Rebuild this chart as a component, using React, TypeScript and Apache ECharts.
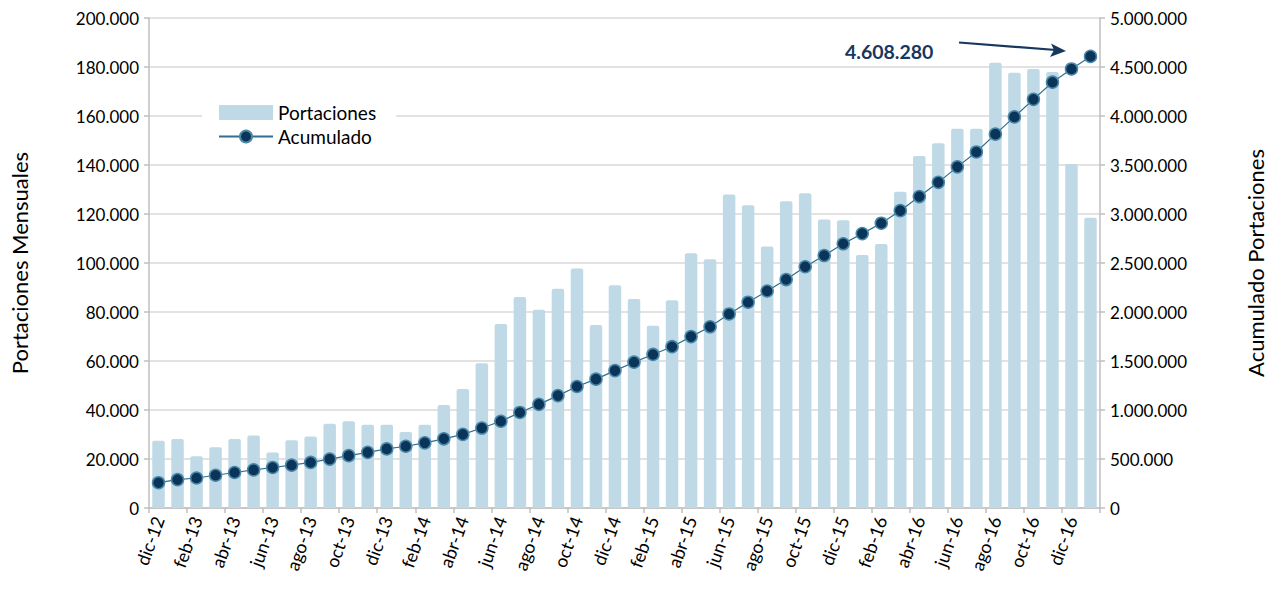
import React, { useEffect, useRef } from "react";
import * as echarts from "echarts";

const categories = [
  "dic-12", "ene-13", "feb-13", "mar-13", "abr-13", "may-13", "jun-13", "jul-13", "ago-13", "sep-13",
  "oct-13", "nov-13", "dic-13", "ene-14", "feb-14", "mar-14", "abr-14", "may-14", "jun-14", "jul-14",
  "ago-14", "sep-14", "oct-14", "nov-14", "dic-14", "ene-15", "feb-15", "mar-15", "abr-15", "may-15",
  "jun-15", "jul-15", "ago-15", "sep-15", "oct-15", "nov-15", "dic-15", "ene-16", "feb-16", "mar-16",
  "abr-16", "may-16", "jun-16", "jul-16", "ago-16", "sep-16", "oct-16", "nov-16", "dic-16", "ene-17",
];

const portaciones = [
  27500, 28200, 21100, 24800, 28200, 29600, 22700, 27700, 29200, 34400,
  35400, 34000, 34000, 31000, 34000, 42000, 48600, 59100, 75100, 86100,
  80900, 89500, 97800, 74700, 90900, 85300, 74400, 84800, 104000, 101500,
  128000, 123600, 106700, 125200, 128500, 117800, 117500, 103300, 107800, 129100,
  143700, 148900, 154800, 154800, 181700, 177700, 179200, 178000, 140400, 118500,
];

const acumulado = [
  258000, 289000, 306000, 334000, 362000, 389000, 413000, 437000, 465000, 499000,
  534000, 568000, 603000, 630000, 665000, 706000, 751000, 816000, 885000, 975000,
  1057000, 1147000, 1240000, 1315000, 1402000, 1488000, 1567000, 1646000, 1749000, 1849000,
  1980000, 2100000, 2214000, 2331000, 2462000, 2576000, 2696000, 2800000, 2906000, 3034000,
  3178000, 3323000, 3481000, 3633000, 3815000, 3991000, 4170000, 4345000, 4480000, 4608280,
];

const totalLabel = "4.608.280";

const fmt = (v: number) => String(v).replace(/\B(?=(\d{3})+(?!\d))/g, ".");

const FONT = "Lato, 'Open Sans', sans-serif";

export default function App() {
  const ref = useRef<HTMLDivElement>(null);

  useEffect(() => {
    if (!ref.current) return;
    const chart = echarts.init(ref.current, undefined, { renderer: "svg" });
    const axisLine = { show: true, lineStyle: { color: "#bfbfbf", width: 1.5 } };
    chart.setOption({
      animation: false,
      textStyle: { fontFamily: FONT },
      grid: { left: 148, right: 176, top: 18, bottom: 86, containLabel: false },
      legend: {
        orient: "vertical",
        left: 202,
        top: 98,
        itemWidth: 54,
        itemHeight: 15,
        itemGap: 5,
        padding: [5, 20, 5, 16],
        backgroundColor: "#ffffff",
        textStyle: { fontFamily: FONT, fontSize: 19, color: "#000" },
        data: [
          { name: "Portaciones", icon: "rect" },
          { name: "Acumulado" },
        ],
      },
      xAxis: {
        type: "category",
        data: categories,
        boundaryGap: true,
        axisLine,
        axisTick: { show: true, interval: 1, length: 5, lineStyle: { color: "#bfbfbf", width: 1.5 } },
        axisLabel: {
          interval: 1,
          rotate: 70,
          margin: 9,
          fontSize: 18,
          color: "#000",
          fontFamily: FONT,
        },
      },
      yAxis: [
        {
          type: "value",
          min: 0,
          max: 200000,
          interval: 20000,
          name: "Portaciones Mensuales",
          nameLocation: "middle",
          nameGap: 119,
          nameTextStyle: { fontSize: 22, color: "#000", fontFamily: FONT },
          axisLine,
          axisTick: { show: true, length: 5, lineStyle: { color: "#bfbfbf", width: 1.5 } },
          axisLabel: { fontSize: 17, color: "#000", margin: 10, formatter: fmt, fontFamily: FONT },
          splitLine: { show: true, lineStyle: { color: "#d9d9d9", width: 1.5 } },
        },
        {
          type: "value",
          min: 0,
          max: 5000000,
          interval: 500000,
          name: "Acumulado Portaciones",
          nameLocation: "middle",
          nameGap: 144,
          nameRotate: 90,
          nameTextStyle: { fontSize: 22, color: "#000", fontFamily: FONT },
          axisLine,
          axisTick: { show: true, length: 5, lineStyle: { color: "#bfbfbf", width: 1.5 } },
          axisLabel: { fontSize: 17, color: "#000", margin: 10, formatter: fmt, fontFamily: FONT },
          splitLine: { show: false },
        },
      ],
      series: [
        {
          name: "Portaciones",
          type: "bar",
          yAxisIndex: 0,
          data: portaciones,
          barWidth: 12.5,
          itemStyle: { color: "#bfdae6", borderRadius: [2, 2, 0, 0] },
        },
        {
          name: "Acumulado",
          type: "line",
          yAxisIndex: 1,
          data: acumulado,
          symbol: "circle",
          symbolSize: 12,
          lineStyle: { color: "#2f6f8f", width: 1.2 },
          itemStyle: { color: "#0b3558", borderColor: "#4a87a8", borderWidth: 1.5 },
          z: 5,
        },
      ],
      graphic: [
        {
          type: "text",
          left: 845,
          top: 41,
          style: {
            text: totalLabel,
            font: `bold 19.5px ${FONT}`,
            fill: "#17375e",
          },
        },
        {
          type: "line",
          shape: { x1: 959, y1: 42.5, x2: 1056, y2: 50 },
          style: { stroke: "#17375e", lineWidth: 2.2 },
        },
        {
          type: "polygon",
          shape: { points: [[1066, 51], [1051, 43.5], [1054, 50], [1050, 57]] },
          style: { fill: "#17375e" },
        },
      ],
    });
    return () => chart.dispose();
  }, []);

  return (
    <div
      ref={ref}
      style={{ position: "fixed", left: 0, top: 0, width: 1276, height: 594, background: "#fff" }}
    />
  );
}
